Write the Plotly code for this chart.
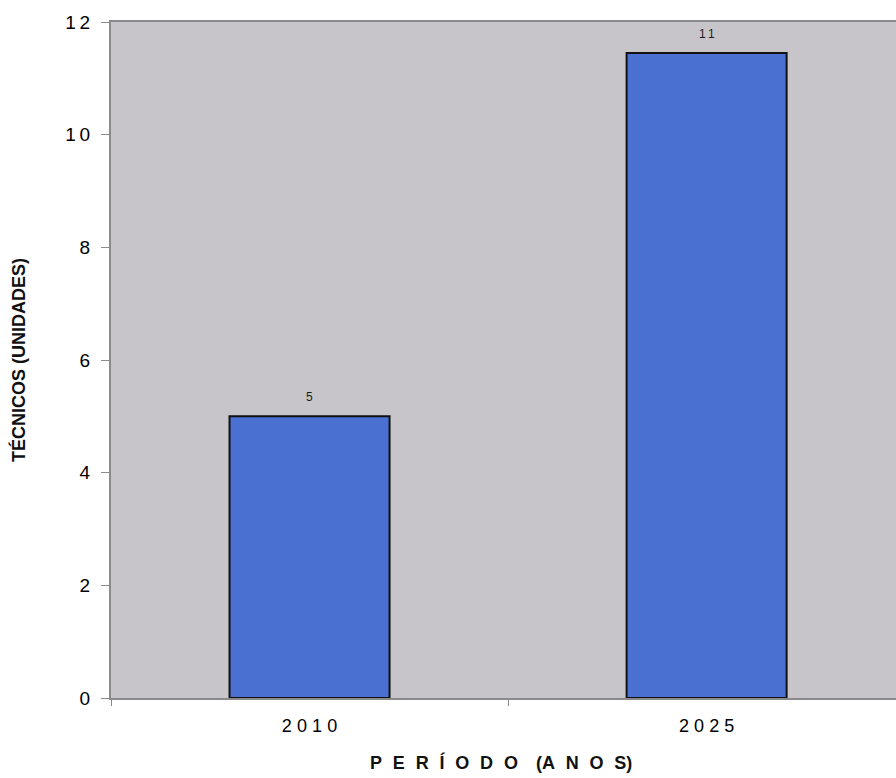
import plotly.graph_objects as go

# Technicians per period
periods = ["2010", "2025"]
tecnicos = [5.0, 11.45]

y_ticks = [0, 2, 4, 6, 8, 10, 12]
y_tick_labels = ["0", "2", "4", "6", "8", "1\u20090", "1\u20092"]

THIN = "\u2009"
FONT = "Arial, 'Liberation Sans', sans-serif"


def spaced(s, sep=THIN):
    return sep.join(list(s))


bar_color = "#4a70d2"
plot_bg = "#c7c5ca"
axis_gray = "#8a8a8a"

PLOT_W = 785
PLOT_H = 676

annotations = []

# value labels above each bar, taken from the same data
for i, v in enumerate(tecnicos):
    annotations.append(dict(
        x=i, y=v, xref="x", yref="y",
        text=spaced(f"{v:.0f}"),
        showarrow=False, xanchor="center", yanchor="bottom", yshift=10,
        font=dict(family=FONT, size=12, color="#1a1a1a"),
    ))

# axis titles
annotations.append(dict(
    x=-93 / PLOT_W, y=0.5, xref="paper", yref="paper",
    text="<b>TÉCNICOS (UNIDADES)</b>",
    showarrow=False, textangle=-90, xanchor="center", yanchor="middle",
    font=dict(family=FONT, size=18, color="#111111"),
))
annotations.append(dict(
    x=(501 - 111) / PLOT_W, y=-64 / PLOT_H, xref="paper", yref="paper",
    text="<b>" + spaced("PERÍODO", "\u2009\u2009\u2009") + "\u2009\u2009\u2009\u2009\u2009("
         + spaced("ANOS", "\u2009\u2009\u2009") + ")</b>",
    showarrow=False, xanchor="center", yanchor="middle",
    font=dict(family=FONT, size=18, color="#111111"),
))

fig = go.Figure()
fig.add_trace(go.Bar(
    x=periods,
    y=tecnicos,
    width=0.403,
    marker=dict(color=bar_color, line=dict(color="#111111", width=2)),
    hoverinfo="x+y",
))

fig.update_layout(
    width=896, height=778,
    margin=dict(l=111, r=0, t=22, b=80),
    paper_bgcolor="white",
    plot_bgcolor=plot_bg,
    showlegend=False,
    annotations=annotations,
    xaxis=dict(
        type="category",
        range=[-0.5, 1.477],
        tickson="boundaries",
        ticks="outside", ticklen=6, tickcolor=axis_gray,
        showline=True, linecolor=axis_gray, linewidth=2, mirror=True,
        showgrid=False,
        tickvals=periods,
        ticktext=[spaced(p, "\u2009\u200a") for p in periods],
        tickfont=dict(family=FONT, size=18, color="#000000"),
        ticklabelstandoff=10,
    ),
    yaxis=dict(
        range=[0, 12],
        tickvals=y_ticks, ticktext=y_tick_labels,
        ticks="outside", ticklen=8, tickcolor=axis_gray,
        showline=True, linecolor=axis_gray, linewidth=2,
        showgrid=False, zeroline=False,
        tickfont=dict(family=FONT, size=19, color="#000000"),
        ticklabelstandoff=7,
    ),
)

fig.write_html("out.html")
